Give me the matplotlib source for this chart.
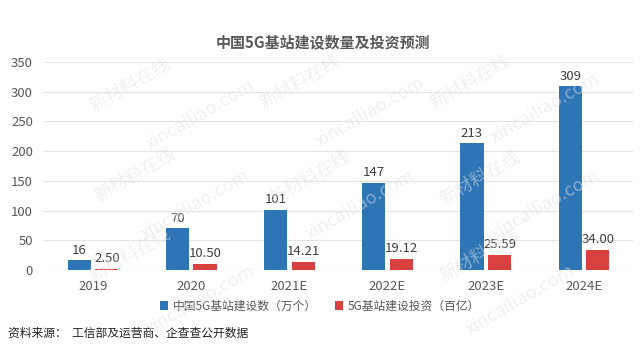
import matplotlib.pyplot as plt
import numpy as np

plt.rcParams['font.family'] = ['Noto Sans CJK SC', 'DejaVu Sans']

years = ['2019', '2020', '2021E', '2022E', '2023E', '2024E']
stations = [16, 70, 101, 147, 213, 309]
invest = [2.50, 10.50, 14.21, 19.12, 25.59, 34.00]

blue = '#2E75B6'
red = '#D94040'
grey = '#595959'

fig = plt.figure(figsize=(6.4, 3.54), dpi=100)
ax = fig.add_axes([44/640, 1-270/354, (633-44)/640, 208/354])

x = np.arange(len(years))
w = 0.235
off = 0.14
b1 = ax.bar(x - off, stations, w, color=blue, label='中国5G基站建设数（万个）', zorder=3)
b2 = ax.bar(x + off, invest, w, color=red, label='5G基站建设投资（百亿）', zorder=3)

for i in range(len(years)):
    ax.text(x[i] - off, stations[i] + 6, str(stations[i]), ha='center', va='bottom',
            fontsize=9.5, color='#404040')
    ax.text(x[i] + off, invest[i] + 6, '%.2f' % invest[i], ha='center', va='bottom',
            fontsize=9.5, color='#404040')

ax.set_xlim(-0.5, len(years) - 0.5)
ax.set_ylim(0, 350)
ax.set_yticks(range(0, 351, 50))
ax.set_xticks(x)
ax.set_xticklabels(years)
ax.tick_params(axis='both', length=0, labelsize=9.5, colors=grey)
ax.tick_params(axis='x', pad=7)
ax.tick_params(axis='y', pad=8)
ax.grid(axis='y', color='#E3E3E3', linewidth=0.8, zorder=0)
for s in ax.spines.values():
    s.set_visible(False)
ax.axhline(0, color='#D9D9D9', linewidth=0.8, zorder=2)

fig.text(0.505, 1-42/354, '中国5G基站建设数量及投资预测', ha='center', va='center',
         fontsize=10.8, fontweight='bold', color=grey)

fig.legend(handles=[b1, b2], loc='center', bbox_to_anchor=(0.5, 1-306/354), ncol=2,
           frameon=False, fontsize=8.5, handlelength=0.7, handleheight=0.7,
           handletextpad=0.4, columnspacing=1.5, labelcolor=grey)

fig.text(8/640, 1-333/354, '资料来源：  工信部及运营商、企查查公开数据', ha='left', va='center',
         fontsize=8.5, color='#222222')

# watermark
wm_a = [(130, 85), (300, 82), (470, 82), (135, 175), (310, 178), (480, 178), (130, 255), (480, 255)]
wm_b = [(200, 115), (370, 112), (545, 108), (195, 205), (360, 205), (545, 205), (200, 300), (520, 300)]
for px, py in wm_a:
    fig.text(px/640, 1-py/354, '新材料在线', rotation=30, ha='center', va='center',
             fontsize=13, color='#E2E2E2', alpha=0.5, zorder=10)
for px, py in wm_b:
    fig.text(px/640, 1-py/354, 'xincailiao.com', rotation=30, ha='center', va='center',
             fontsize=13, color='#E2E2E2', alpha=0.5, zorder=10)

fig.savefig('out.png', dpi=100)
